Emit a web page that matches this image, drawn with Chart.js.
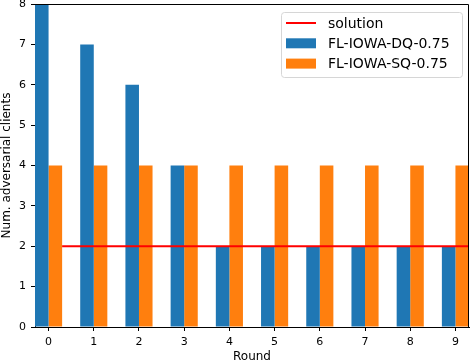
<!DOCTYPE html>
<html>
<head>
<meta charset="utf-8">
<script src="https://cdn.jsdelivr.net/npm/chart.js@4/dist/chart.umd.min.js"></script>
<style>
  html, body { margin: 0; padding: 0; background: #fff; }
  #wrap { width: 470px; height: 362px; }
</style>
</head>
<body>
<div id="wrap"><canvas id="roundsChart" width="470" height="362"></canvas></div>
<script>
// Datos
const rounds = [0, 1, 2, 3, 4, 5, 6, 7, 8, 9];
const dqValues = [8, 7, 6, 4, 2, 2, 2, 2, 2, 2];
const sqValues = [4, 4, 4, 4, 4, 4, 4, 4, 4, 4];
const solutionX = [0.3, 9.3];
const solutionY = [2, 2];
const yTicks = [0, 1, 2, 3, 4, 5, 6, 7, 8];

const FONT = 'DejaVu Sans, sans-serif';
Chart.defaults.font.family = FONT;
Chart.defaults.color = '#000';

// marco completo + leyenda estilo matplotlib
const framePlugin = {
    id: 'frame',
    afterDraw(chart) {
        const { ctx, chartArea: a } = chart;
        ctx.save();
        ctx.strokeStyle = '#000';
        ctx.lineWidth = 1;
        ctx.beginPath();
        ctx.moveTo(a.left, a.top + 0.5);
        ctx.lineTo(a.right - 0.5, a.top + 0.5);
        ctx.lineTo(a.right - 0.5, a.bottom);
        ctx.stroke();

        // leyenda
        const bx = 281, by = 12, bw = 181, bh = 65;
        ctx.fillStyle = 'rgba(255,255,255,0.8)';
        ctx.strokeStyle = '#d6d6d6';
        ctx.beginPath();
        ctx.roundRect(bx + 0.5, by + 0.5, bw, bh, 3);
        ctx.fill();
        ctx.stroke();

        const items = [chart.data.datasets[2], chart.data.datasets[0], chart.data.datasets[1]];
        ctx.font = '14px ' + FONT;
        ctx.textBaseline = 'middle';
        items.forEach((ds, i) => {
            const cy = by + 11 + i * 20.3;
            if (ds.type === 'line') {
                ctx.strokeStyle = ds.borderColor;
                ctx.lineWidth = 2;
                ctx.beginPath();
                ctx.moveTo(286, cy);
                ctx.lineTo(316, cy);
                ctx.stroke();
            } else {
                ctx.fillStyle = ds.backgroundColor;
                ctx.fillRect(286, cy - 5, 30, 10);
            }
            ctx.fillStyle = '#000';
            ctx.fillText(ds.label, 328, cy + 1);
        });
        ctx.restore();
    }
};

new Chart(document.getElementById('roundsChart'), {
    type: 'bar',
    data: {
        datasets: [
            {
                label: 'FL-IOWA-DQ-0.75',
                data: rounds.map((r, i) => ({ x: r, y: dqValues[i] })),
                backgroundColor: '#1f77b4',
                borderWidth: 0,
                inflateAmount: 0,
                categoryPercentage: 0.6,
                barPercentage: 1.0,
                order: 2
            },
            {
                label: 'FL-IOWA-SQ-0.75',
                data: rounds.map((r, i) => ({ x: r, y: sqValues[i] })),
                backgroundColor: '#ff7f0e',
                borderWidth: 0,
                inflateAmount: 0,
                categoryPercentage: 0.6,
                barPercentage: 1.0,
                order: 2
            },
            {
                type: 'line',
                label: 'solution',
                data: solutionX.map((x, i) => ({ x: x, y: solutionY[i] })),
                borderColor: '#ff0000',
                borderWidth: 2,
                pointRadius: 0,
                fill: false,
                order: 1
            }
        ]
    },
    options: {
        responsive: false,
        animation: false,
        layout: { padding: { top: 4, right: 1, left: 0, bottom: 0 } },
        plugins: {
            legend: { display: false },
            tooltip: { enabled: false }
        },
        scales: {
            x: {
                type: 'linear',
                min: -0.3,
                max: 9.3,
                offset: false,
                afterBuildTicks: (axis) => { axis.ticks = rounds.map(v => ({ value: v })); },
                afterFit: (axis) => {
                    axis.height = 35;
                    axis.paddingLeft = 0;
                    axis.paddingRight = 0;
                },
                grid: { offset: false, drawOnChartArea: false, drawTicks: true, tickLength: 4, color: '#000' },
                border: { color: '#000' },
                ticks: { font: { size: 11 }, padding: 5, maxRotation: 0 },
                title: { display: true, text: 'Round', font: { size: 12 }, padding: { top: 2, bottom: -2 } }
            },
            y: {
                min: 0,
                max: 8,
                afterBuildTicks: (axis) => { axis.ticks = yTicks.map(v => ({ value: v })); },
                afterFit: (axis) => {
                    axis.width = 35;
                    axis.paddingTop = 0;
                    axis.paddingBottom = 0;
                },
                grid: { drawOnChartArea: false, drawTicks: true, tickLength: 4, color: '#000' },
                border: { color: '#000' },
                ticks: { font: { size: 11 }, padding: 5 },
                title: { display: true, text: 'Num. adversarial clients', font: { size: 12 }, padding: { top: 0, bottom: 1 } }
            }
        }
    },
    plugins: [framePlugin]
});
</script>
</body>
</html>
